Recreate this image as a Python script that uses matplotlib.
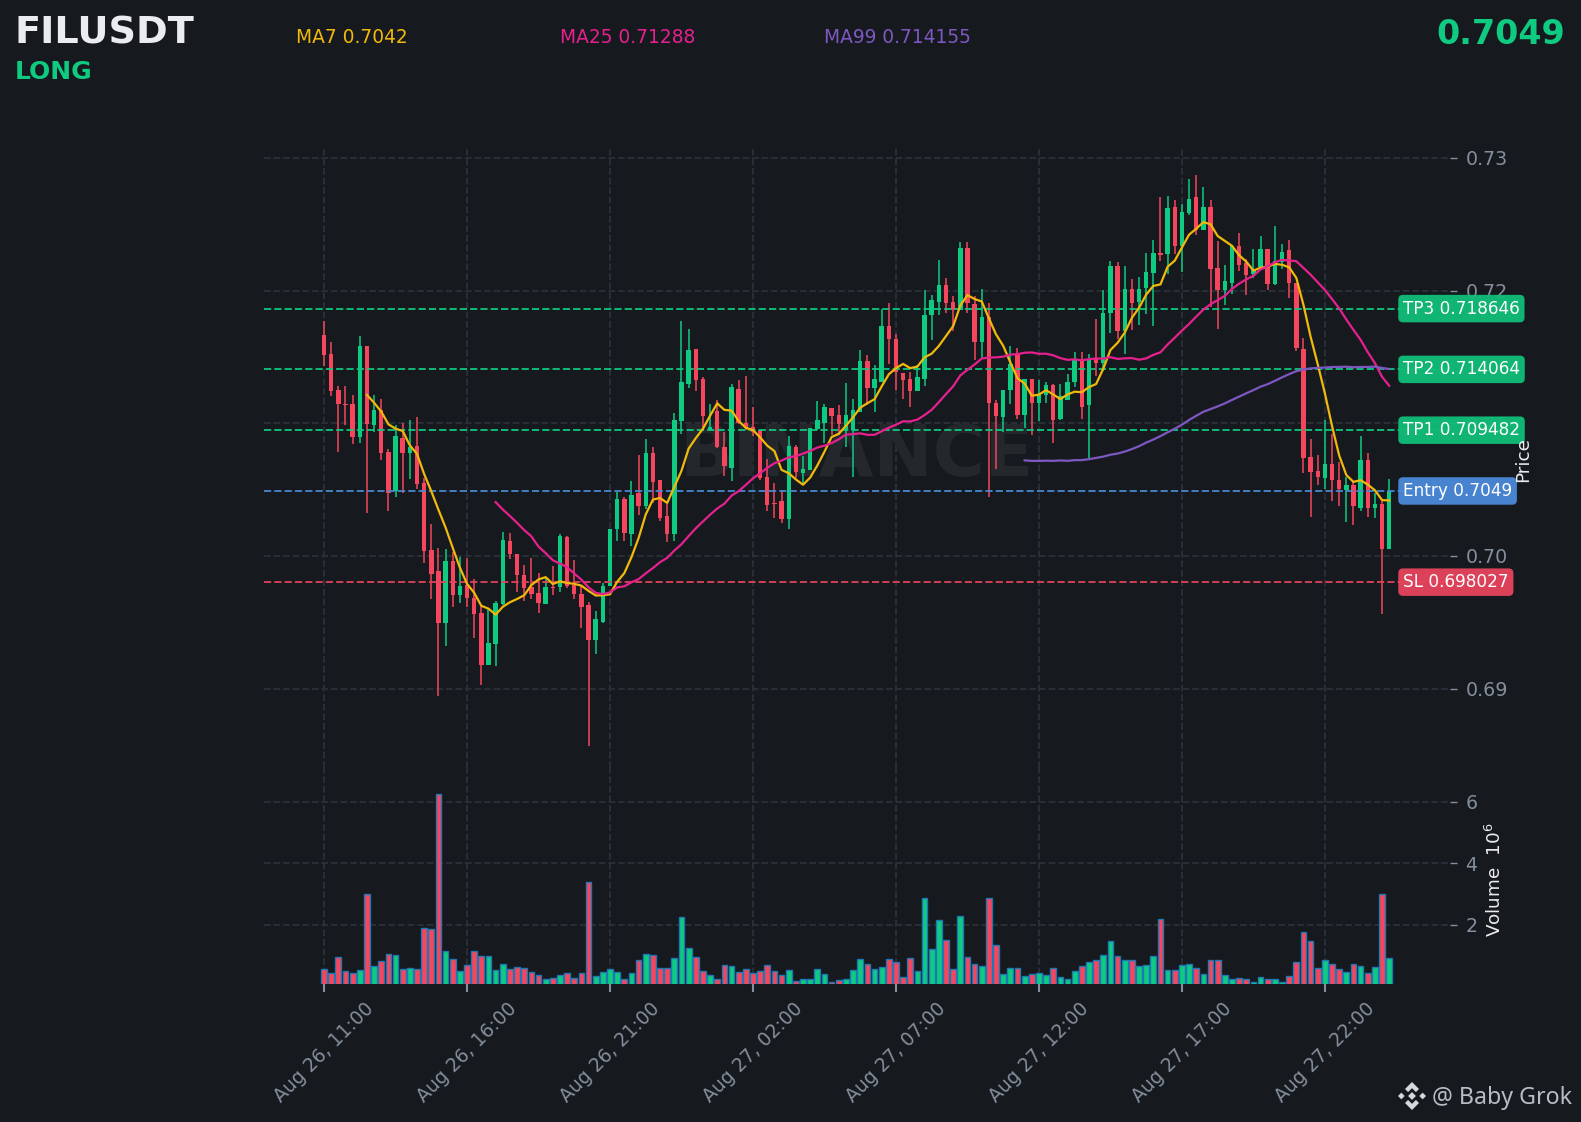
import matplotlib
matplotlib.use("Agg")
import matplotlib.pyplot as plt
import numpy as np
import pandas as pd
from matplotlib.patches import Polygon

# 15 minute candles, prices in 1e-5
opens = [71662, 71519, 71248, 71143, 71143, 70895, 71579, 70985, 71098, 70782,
         70489, 70888, 70775, 70827, 70549, 70046, 69888, 69497, 69963, 69707,
         69782, 69685, 69572, 69181, 69339, 69640, 70113, 70015, 69858, 69767,
         69722, 69640, 69767, 69767, 70143, 69782, 69715, 69632, 69369, 69504,
         69777, 70204, 70430, 70167, 70475, 70377, 70775, 70572, 70302, 70167,
         71016, 71294, 71557, 71332, 70948, 71091, 70821, 70663, 71257, 71001,
         70971, 70948, 70595, 70397, 70415, 70279, 70821, 70625, 70648, 70956,
         71001, 71114, 71061, 70956, 70948, 71084, 71467, 71264, 71309, 71730,
         71633, 71377, 71332, 71242, 71332, 71820, 71918, 72039, 71911, 71851,
         72324, 71896, 71610, 71800, 71151, 71046, 71249, 71520, 71061, 71332,
         71151, 71212, 71287, 71031, 71174, 71309, 71482, 71136, 71490, 71452,
         71828, 72189, 71693, 72016, 71911, 72023, 72136, 72287, 72278, 72634,
         72339, 72587, 72707, 72459, 72632, 72174, 72001, 72061, 72339, 72211,
         72128, 72181, 72316, 72053, 72219, 72309, 72061, 71557, 70745, 70640,
         70587, 70693, 70572, 70497, 70535, 70362, 70723, 70362, 70392, 70054]
closes = [71512, 71241, 71143, 71136, 70895, 71579, 70993, 71098, 70775, 70474,
          70903, 70775, 70820, 70542, 70038, 69865, 69497, 69963, 69707, 69775,
          69685, 69564, 69181, 69346, 69647, 70121, 70015, 69858, 69760, 69715,
          69647, 69767, 69762, 70151, 69775, 69715, 69617, 69369, 69527, 69775,
          70203, 70430, 70174, 70460, 70377, 70775, 70557, 70287, 70167, 71024,
          71309, 71550, 71324, 71054, 70973, 70821, 70678, 71272, 71001, 70963,
          70933, 70588, 70385, 70392, 70279, 70828, 70633, 70655, 70963, 71024,
          71121, 71054, 70994, 71061, 71099, 71467, 71264, 71332, 71730, 71633,
          71384, 71324, 71242, 71347, 71820, 71926, 72039, 71903, 71851, 72324,
          71903, 71610, 71798, 71151, 71054, 71249, 71450, 71061, 71337, 71151,
          71212, 71287, 71024, 71204, 71309, 71482, 71121, 71482, 71452, 71828,
          72189, 71693, 72016, 71903, 72016, 72144, 72287, 72271, 72624, 72338,
          72595, 72692, 72459, 72632, 72166, 72001, 72076, 72339, 72196, 72121,
          72159, 72316, 72053, 72226, 72294, 72061, 71565, 70738, 70632, 70595,
          70693, 70572, 70505, 70535, 70377, 70723, 70362, 70392, 70054, 70487]
highs = [71770, 71614, 71283, 71283, 71216, 71659, 71579, 71216, 71186, 70810,
         70985, 71005, 71028, 71048, 70584, 70238, 70058, 70051, 70028, 69990,
         69983, 69825, 69620, 69607, 69657, 70178, 70171, 70015, 69930, 69983,
         69870, 69845, 69925, 70163, 70151, 69970, 69782, 69652, 69584, 69795,
         70203, 70480, 70447, 70562, 70758, 70878, 70818, 70572, 70392, 71081,
         71773, 71713, 71557, 71347, 71144, 71174, 70938, 71299, 71324, 71359,
         71126, 70948, 70728, 70547, 70495, 70901, 70836, 70750, 70963, 71171,
         71144, 71114, 71136, 71307, 71186, 71555, 71517, 71437, 71863, 71908,
         71675, 71377, 71387, 71442, 72001, 71968, 72231, 72096, 71963, 72369,
         72369, 71963, 72013, 71908, 71174, 71249, 71582, 71570, 71337, 71332,
         71324, 71312, 71294, 71299, 71374, 71537, 71537, 71525, 71788, 72001,
         72221, 72214, 72186, 72084, 72106, 72284, 72382, 72709, 72714, 72682,
         72652, 72840, 72873, 72780, 72682, 72377, 72196, 72346, 72434, 72239,
         72314, 72412, 72316, 72487, 72351, 72384, 72061, 71645, 70878, 70760,
         71028, 70916, 70710, 70597, 70557, 70908, 70773, 70472, 70422, 70577]
lows = [71431, 71206, 70785, 70985, 70845, 70852, 70321, 70935, 70725, 70341,
        70441, 70477, 70577, 70507, 69950, 69675, 68943, 69319, 69615, 69642,
        69615, 69379, 69026, 69181, 69168, 69632, 69980, 69730, 69657, 69675,
        69567, 69640, 69707, 69732, 69760, 69675, 69457, 68567, 69259, 69494,
        69777, 70116, 70116, 70079, 70309, 70352, 70397, 70267, 70109, 70116,
        70916, 71267, 71244, 70948, 70948, 70813, 70603, 70565, 70994, 70948,
        70903, 70572, 70339, 70287, 70249, 70204, 70585, 70535, 70648, 70948,
        70848, 70911, 70911, 70823, 70598, 71084, 71136, 71086, 71309, 71450,
        71249, 71186, 71124, 71242, 71284, 71630, 71813, 71830, 71693, 71851,
        71830, 71475, 71492, 70447, 70653, 70936, 71149, 71036, 70961, 70913,
        71019, 71156, 70848, 71024, 71174, 71274, 71034, 70735, 71357, 71394,
        71683, 71638, 71525, 71705, 71738, 71825, 71733, 72226, 72126, 72276,
        72141, 72570, 72422, 72459, 71875, 71712, 71893, 71978, 72151, 71966,
        72096, 72164, 72006, 72041, 72164, 71943, 71547, 70627, 70292, 70535,
        70505, 70417, 70379, 70259, 70236, 70342, 70297, 70284, 69560, 70054]
# volume in millions
volumes = [.56, .43, .97, .49, .43, .53, 3.00, .66, .82, 1.05,
           1.01, .56, .59, .56, 1.89, 1.86, 6.25, 1.14, .88, .49,
           .69, 1.14, .98, .98, .53, .72, .56, .62, .59, .46,
           .36, .23, .27, .36, .43, .27, .43, 3.39, .33, .46,
           .56, .46, .23, .43, .85, 1.05, 1.01, .59, .59, .92,
           2.25, 1.24, .95, .49, .36, .23, .69, .66, .46, .56,
           .43, .49, .69, .49, .36, .53, .17, .23, .23, .56,
           .40, .14, .20, .23, .53, .88, .72, .56, .62, .88,
           .79, .30, .92, .49, 2.87, 1.21, 2.15, 1.50, .56, 2.28,
           .95, .72, .66, 2.87, 1.34, .40, .59, .59, .33, .40,
           .43, .36, .59, .30, .23, .49, .66, .79, .85, 1.01,
           1.47, .98, .85, .85, .66, .69, .98, 2.18, .53, .53,
           .69, .72, .59, .40, .85, .85, .36, .23, .27, .23,
           .14, .30, .23, .23, .14, .33, .79, 1.76, 1.47, .59,
           .85, .72, .56, .46, .72, .66, .43, .62, 3.00, .92]

tick_labels = ["Aug 26, 11:00", "Aug 26, 16:00", "Aug 26, 21:00", "Aug 27, 02:00",
               "Aug 27, 07:00", "Aug 27, 12:00", "Aug 27, 17:00", "Aug 27, 22:00"]
level_names = ["TP3 0.718646", "TP2 0.714064", "TP1 0.709482", "Entry 0.7049", "SL 0.698027"]
level_values = [0.718646, 0.714064, 0.709482, 0.7049, 0.698027]

BG = "#161a1e"
GREEN = "#0ecb81"
RED = "#f6465d"
GRID = "#2b3139"
TICK = "#848e9c"
level_colors = ["#0ecb81", "#0ecb81", "#0ecb81", "#4a8ad4", "#e5435b"]
level_boxes = ["#10bd78", "#10bd78", "#10bd78", "#4b8ada", "#e8445e"]

W, H = 1581, 1122


def fx(px):
    return px / W


def fy(px):
    return 1 - px / H


o = np.array(opens) / 1e5
c = np.array(closes) / 1e5
hi = np.array(highs) / 1e5
lo = np.array(lows) / 1e5
vol = np.array(volumes)
x = np.arange(len(o))
colors = [GREEN if cl >= op else RED for op, cl in zip(o, c)]

fig = plt.figure(figsize=(W / 100, H / 100), dpi=100, facecolor=BG)
left, right = fx(264), fx(1450)
ax = fig.add_axes([left, fy(768), right - left, fy(148) - fy(768)], facecolor=BG)
ax_vol = fig.add_axes([left, fy(984), right - left, fy(768) - fy(984)], facecolor=BG, sharex=ax)

# candles
ax.vlines(x, lo, hi, colors=colors, linewidth=1.1, zorder=3)
ax.bar(x, np.abs(c - o), bottom=np.minimum(o, c), width=0.62, color=colors, linewidth=0, zorder=3)

# moving averages from the closes
close_s = pd.Series(c)
ax.plot(x, close_s.rolling(7).mean(), color="#f0b90b", lw=1.6, zorder=5)
ax.plot(x, close_s.rolling(25).mean(), color="#e6208f", lw=1.6, zorder=5)
ax.plot(x, close_s.rolling(99).mean(), color="#7e57c2", lw=1.6, zorder=5)

for name, val, col, box in zip(level_names, level_values, level_colors, level_boxes):
    ax.axhline(val, color=col, lw=1.4, ls="--", zorder=4, alpha=0.9)
    ax.text(0.9604, val, name, transform=ax.get_yaxis_transform(), color="white", fontsize=12.2,
            va="center", ha="left", zorder=7, clip_on=False,
            bbox=dict(boxstyle="round,pad=0.28", facecolor=box, edgecolor="none", alpha=0.95))

ax.text(0.5, 0.5022, "BINANCE", transform=ax.transAxes, fontsize=51, fontweight="bold",
        color="#24282d", ha="center", va="center", zorder=1)

# volume
ax_vol.bar(x, vol, width=0.8, color=colors, edgecolor="#1f77b4", linewidth=1.0, zorder=3)

for a in (ax, ax_vol):
    a.set_xlim(-8.4, 157.5)
    for s in a.spines.values():
        s.set_visible(False)
    a.grid(True, color=GRID, lw=1.3, ls="--", zorder=0)
    a.set_axisbelow(True)
    a.yaxis.tick_right()
    a.tick_params(axis="y", colors=TICK, labelsize=13.7, length=5, width=1.0, pad=6)

ax.set_ylim(0.68402, 0.73075)
ax.set_yticks([0.69, 0.70, 0.71, 0.72, 0.73])
ax.set_yticklabels(["0.69", "0.70", "0.71", "0.72", "0.73"])
ax.tick_params(axis="x", length=0)
plt.setp(ax.get_xticklabels(), visible=False)

ax_vol.set_ylim(0.08, 7.1)
ax_vol.set_yticks([2, 4, 6])
ax_vol.set_xticks(np.arange(0, 150, 20))
ax_vol.set_xticklabels(tick_labels, rotation=45, ha="center", rotation_mode="default")
ax_vol.tick_params(axis="x", colors=TICK, labelsize=13.5, length=6, width=1.5, pad=5)

# axis titles
fig.text(fx(1523), fy(460), "Price", color="#eaecef", fontsize=13.3, rotation=90, ha="center", va="center")
fig.text(fx(1495), fy(880), "Volume  $10^{6}$", color="#eaecef", fontsize=13.2, rotation=90, ha="center", va="center")

# header
fig.text(fx(15), fy(43.5), "FILUSDT", color="#eaecef", fontsize=27.5, fontweight="bold", va="baseline")
fig.text(fx(15), fy(79), "LONG", color=GREEN, fontsize=18, fontweight="bold", va="baseline")
fig.text(fx(296), fy(43), "MA7 0.7042", color="#f0b90b", fontsize=13.4, va="baseline")
fig.text(fx(560), fy(43), "MA25 0.71288", color="#e6208f", fontsize=13.4, va="baseline")
fig.text(fx(824), fy(43), "MA99 0.714155", color="#7e57c2", fontsize=13.4, va="baseline")
fig.text(fx(1565), fy(44), "0.7049", color=GREEN, fontsize=24, fontweight="bold", ha="right", va="baseline")

# footer with the small logo
fig.text(fx(1432), fy(1104), "@ Baby Grok", color="#b7bdc6", fontsize=16.7, family="Noto Sans", va="baseline")
logo = fig.add_axes([fx(1398), fy(1110), 28 / W, 28 / H])
logo.axis("off")
logo.set_xlim(-1, 1)
logo.set_ylim(-1, 1)
logo_parts = [
    [(0, 1), (.5, .5), (.28, .28), (0, .56), (-.28, .28), (-.5, .5)],
    [(0, -1), (.5, -.5), (.28, -.28), (0, -.56), (-.28, -.28), (-.5, -.5)],
    [(0, .28), (.28, 0), (0, -.28), (-.28, 0)],
    [(.76, .24), (1, 0), (.76, -.24), (.52, 0)],
    [(-.76, .24), (-1, 0), (-.76, -.24), (-.52, 0)],
]
for part in logo_parts:
    logo.add_patch(Polygon(part, closed=True, facecolor="#d5d8dc", edgecolor="none"))

fig.savefig("out.png", dpi=100, facecolor=BG)
